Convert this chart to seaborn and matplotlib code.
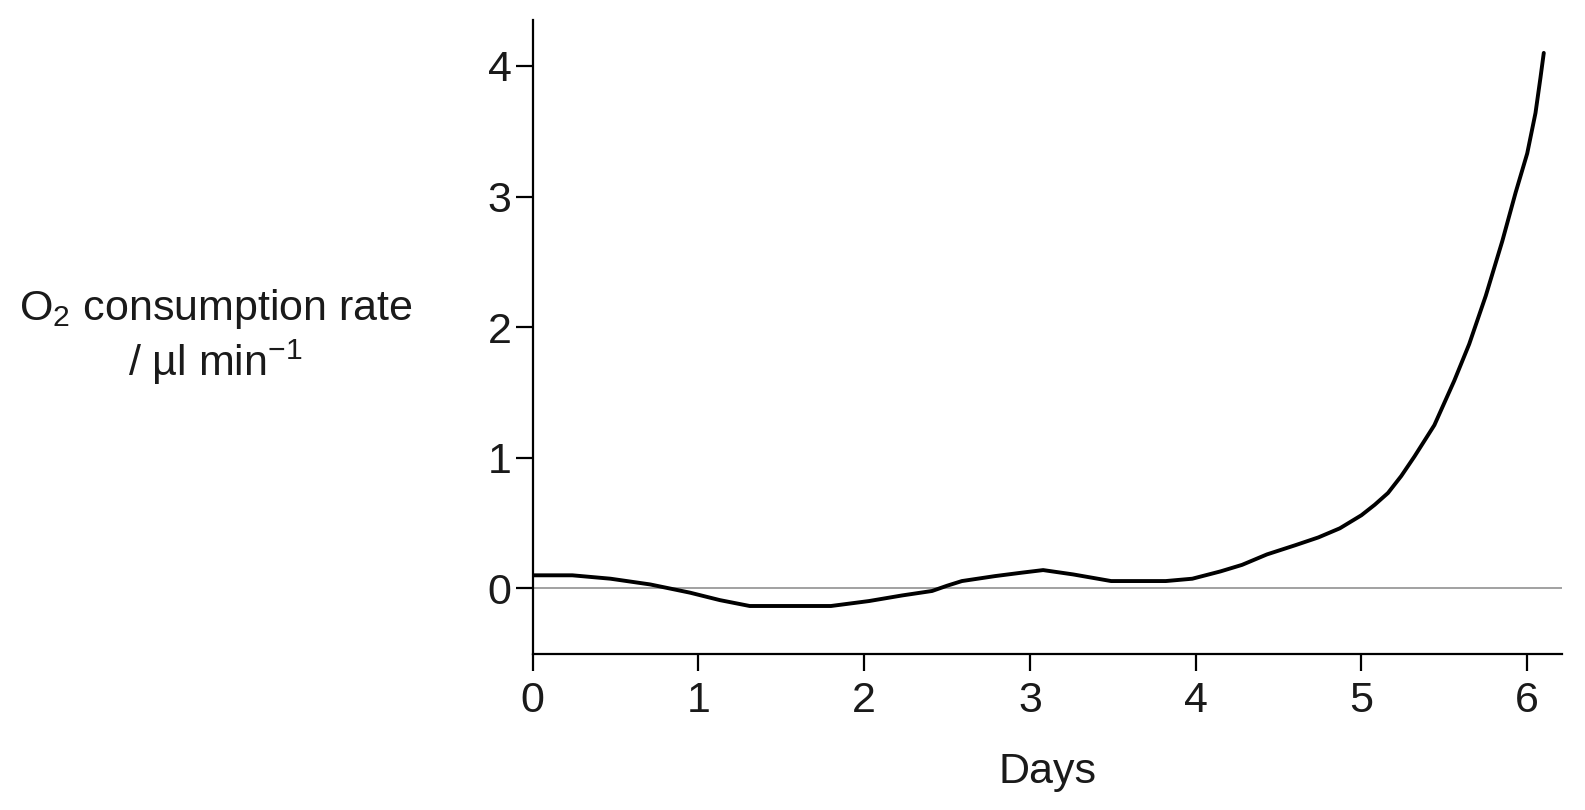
import matplotlib
matplotlib.use('Agg')
import matplotlib.pyplot as plt
import seaborn as sns
import pandas as pd

# values
days = [0.0, 0.24, 0.47, 0.71, 0.95, 1.13, 1.31, 1.55, 1.80, 2.03, 2.23, 2.41,
        2.50, 2.59, 2.79, 2.95, 3.08, 3.26, 3.49, 3.82, 3.98, 4.15, 4.28, 4.43,
        4.60, 4.74, 4.87, 5.0, 5.08, 5.16, 5.24, 5.32, 5.44, 5.56, 5.65, 5.75,
        5.85, 5.93, 6.0, 6.05, 6.08, 6.10]
rate = [0.10, 0.10, 0.074, 0.03, -0.033, -0.09, -0.135, -0.135, -0.135, -0.097,
        -0.054, -0.02, 0.02, 0.056, 0.094, 0.12, 0.14, 0.107, 0.056, 0.056, 0.074,
        0.13, 0.18, 0.26, 0.33, 0.39, 0.46, 0.56, 0.64, 0.73, 0.86, 1.01, 1.25,
        1.59, 1.87, 2.24, 2.66, 3.03, 3.33, 3.64, 3.91, 4.10]
xticks = [0, 1, 2, 3, 4, 5, 6]
yticks = [0, 1, 2, 3, 4]

sns.set_theme(style='ticks')
plt.rcParams['font.family'] = ['Liberation Sans', 'DejaVu Sans']
plt.rcParams['mathtext.fontset'] = 'custom'
plt.rcParams['mathtext.rm'] = 'Liberation Sans'
plt.rcParams['mathtext.it'] = 'Liberation Sans'

d = pd.DataFrame({'Days': days, 'rate': rate})

fig = plt.figure(figsize=(15.85, 8.1), dpi=100)
ax = fig.add_axes([0.336, 0.193, 0.6495, 0.782])

ax.axhline(0, color='#9a9a9a', lw=1.3, zorder=1)
sns.lineplot(data=d, x='Days', y='rate', ax=ax, color='black', lw=2.8, zorder=3)

ax.set_xlim(0, 6.21)
ax.set_ylim(-0.5, 4.35)
ax.set_xticks(xticks)
ax.set_yticks(yticks)
ax.tick_params(axis='both', labelsize=31, length=12, width=1.6, color='black',
               labelcolor='#1a1a1a')
ax.tick_params(axis='x', pad=8)
ax.tick_params(axis='y', pad=3)
for s in ['top', 'right']:
    ax.spines[s].set_visible(False)
for s in ['left', 'bottom']:
    ax.spines[s].set_color('black')
    ax.spines[s].set_linewidth(1.6)

ax.set_xlabel('Days', fontsize=31, labelpad=22, color='#1a1a1a')
ax.set_ylabel('')
fig.text(0.136, 0.584, 'O$_2$ consumption rate\n/ µl min$^{-1}$', ha='center',
         va='center', fontsize=31, color='#1a1a1a', linespacing=1.15)

fig.savefig('out.png', dpi=100)
